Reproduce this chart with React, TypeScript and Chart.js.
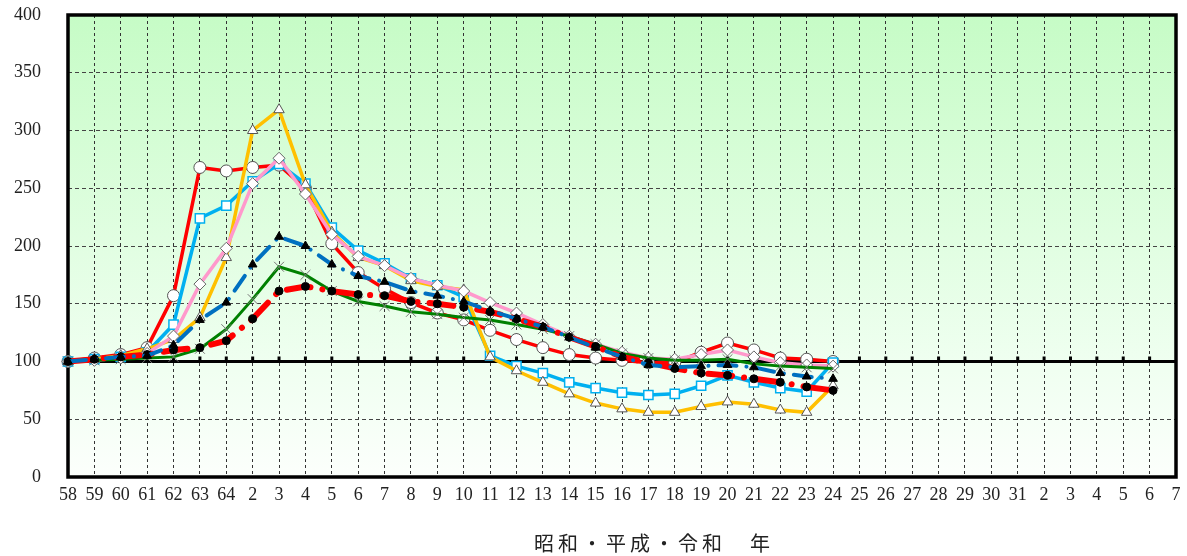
import React, { useEffect, useRef } from "react";
import { Chart, registerables } from "chart.js";

Chart.register(...registerables);

const yearLabels: string[] = [
  "58", "59", "60", "61", "62", "63", "64",
  "2", "3", "4", "5", "6", "7", "8", "9", "10", "11", "12", "13", "14", "15",
  "16", "17", "18", "19", "20", "21", "22", "23", "24", "25", "26", "27", "28",
  "29", "30", "31",
  "2", "3", "4", "5", "6", "7",
];

const redCircle: number[] = [100, 103, 106, 112, 157, 268, 265, 268, 270, 250, 202, 177, 163, 151, 142, 136, 127, 119, 112, 106, 103, 101, 99, 99, 108, 116, 110, 103, 102, 100];
const blueSquare: number[] = [100, 102, 104, 108, 132, 224, 235, 256, 271, 254, 216, 196, 185, 172, 166, 156, 105, 96, 90, 82, 77, 73, 71, 72, 79, 88, 82, 77, 74, 99];
const yellowTriangle: number[] = [100, 102, 105, 111, 119, 138, 190, 300, 318, 253, 212, 190, 183, 170, 165, 162, 104, 92, 82, 72, 64, 59, 56, 56, 61, 65, 63, 58, 56, 79];
const pinkDiamond: number[] = [100, 101, 103, 107, 122, 167, 198, 254, 276, 245, 210, 191, 183, 172, 166, 161, 151, 142, 132, 122, 115, 108, 103, 102, 106, 110, 104, 99, 97, 96];
const navyTriangle: number[] = [100, 102, 104, 105, 114, 136, 151, 184, 208, 200, 184, 174, 169, 161, 157, 152, 144, 137, 130, 121, 112, 104, 97, 95, 96, 97, 95, 90, 87, 85];
const greenCross: number[] = [100, 101, 102, 103, 104, 111, 128, 154, 182, 175, 161, 152, 148, 143, 141, 138, 136, 132, 128, 122, 115, 107, 103, 101, 101, 102, 98, 96, 95, 94];
const redDashDot: number[] = [100, 102, 104, 106, 110, 112, 118, 137, 161, 165, 161, 158, 157, 152, 150, 147, 143, 137, 130, 121, 113, 104, 99, 94, 90, 88, 85, 82, 78, 75];

const yMin = 0;
const yMax = 400;
const yStep = 50;
const baseline = 100;
const axisTitle = "昭和・平成・令和　年";

const decorPlugin = {
  id: "decor",
  beforeDraw(chart: any) {
    const { ctx, chartArea } = chart;
    const { left, top, right, bottom } = chartArea;
    ctx.save();
    const g = ctx.createLinearGradient(0, top, 0, bottom);
    g.addColorStop(0, "#c6fcc6");
    g.addColorStop(0.75, "#effff0");
    g.addColorStop(1, "#fcfffc");
    ctx.fillStyle = g;
    ctx.fillRect(left, top, right - left, bottom - top);
    ctx.restore();
  },
  beforeDatasetsDraw(chart: any) {
    const { ctx, chartArea, scales } = chart;
    const { left, top, right, bottom } = chartArea;
    const y = scales.y.getPixelForValue(baseline);
    ctx.save();
    ctx.strokeStyle = "#000";
    ctx.lineWidth = 3;
    ctx.beginPath();
    ctx.moveTo(left, y);
    ctx.lineTo(right, y);
    ctx.stroke();
    ctx.lineWidth = 3;
    for (let i = 1; i < yearLabels.length - 1; i++) {
      const x = scales.x.getPixelForTick(i);
      ctx.beginPath();
      ctx.moveTo(x, y - 5);
      ctx.lineTo(x, y);
      ctx.stroke();
    }
    ctx.lineWidth = 3.5;
    ctx.strokeRect(left, top, right - left, bottom - top);
    ctx.restore();
  },
  afterDraw(chart: any) {
    const { ctx } = chart;
    ctx.save();
    ctx.font = '20px "Noto Sans CJK JP"';
    (ctx as any).letterSpacing = "4px";
    ctx.fillStyle = "#222";
    ctx.textAlign = "center";
    ctx.textBaseline = "middle";
    ctx.fillText(axisTitle, 654, 543);
    ctx.restore();
  },
};

export default function App() {
  const canvasRef = useRef<HTMLCanvasElement | null>(null);

  useEffect(() => {
    if (!canvasRef.current) return;
    const common = { fill: false, tension: 0, clip: false as any, spanGaps: false };
    const chart = new Chart(canvasRef.current, {
      type: "line",
      data: {
        labels: yearLabels,
        datasets: [
          {
            ...common,
            label: "navy",
            data: navyTriangle,
            borderColor: "#0070c0",
            borderWidth: 4,
            borderDash: [18, 10, 0.1, 10],
            borderCapStyle: "round",
            pointStyle: "triangle",
            pointRadius: 5,
            pointBackgroundColor: "#000",
            pointBorderColor: "#000",
            pointBorderWidth: 1,
            order: 1,
          },
          {
            ...common,
            label: "redDash",
            data: redDashDot,
            borderColor: "#ff0000",
            borderWidth: 6,
            borderDash: [24, 12, 0.1, 12],
            borderCapStyle: "round",
            pointStyle: "circle",
            pointRadius: 4,
            pointBackgroundColor: "#000",
            pointBorderColor: "#000",
            pointBorderWidth: 1,
            order: 2,
          },
          {
            ...common,
            label: "green",
            data: greenCross,
            borderColor: "#008000",
            borderWidth: 3,
            pointStyle: "crossRot",
            pointRadius: 7,
            pointBorderColor: "#777",
            pointBorderWidth: 1,
            order: 3,
          },
          {
            ...common,
            label: "pink",
            data: pinkDiamond,
            borderColor: "#ff99cc",
            borderWidth: 3.5,
            pointStyle: "rectRot",
            pointRadius: 6,
            pointBackgroundColor: "#fff",
            pointBorderColor: "#666",
            pointBorderWidth: 1,
            order: 4,
          },
          {
            ...common,
            label: "yellow",
            data: yellowTriangle,
            borderColor: "#ffc000",
            borderWidth: 3.5,
            pointStyle: "triangle",
            pointRadius: 6,
            pointBackgroundColor: "#fff",
            pointBorderColor: "#555",
            pointBorderWidth: 1,
            order: 5,
          },
          {
            ...common,
            label: "lightblue",
            data: blueSquare,
            borderColor: "#00b0f0",
            borderWidth: 3.5,
            pointStyle: "rect",
            pointRadius: 6.5,
            pointBackgroundColor: "#fff",
            pointBorderColor: "#00b0f0",
            pointBorderWidth: 1.5,
            order: 6,
          },
          {
            ...common,
            label: "red",
            data: redCircle,
            borderColor: "#ff0000",
            borderWidth: 3.5,
            pointStyle: "circle",
            pointRadius: 6,
            pointBackgroundColor: "#fff",
            pointBorderColor: "#555",
            pointBorderWidth: 1,
            order: 7,
          },
        ] as any,
      },
      options: {
        animation: false,
        responsive: false,
        maintainAspectRatio: false,
        layout: { padding: { top: 15, right: 11, left: 0, bottom: 0 } },
        plugins: {
          legend: { display: false },
          tooltip: { enabled: false },
          title: { display: false },
        },
        scales: {
          x: {
            type: "category",
            offset: false,
            grid: { color: "#333", lineWidth: 1, drawTicks: false },
            border: { display: false, dash: [3, 3] },
            ticks: {
              autoSkip: false,
              maxRotation: 0,
              minRotation: 0,
              padding: 7,
              color: "#222",
              font: { family: '"Liberation Serif", "DejaVu Serif", serif', size: 18 },
            },
            afterFit(scale: any) {
              scale.height = 79;
              scale.paddingLeft = 0;
              scale.paddingRight = 0;
            },
          },
          y: {
            type: "linear",
            min: yMin,
            max: yMax,
            grid: { color: "#444", lineWidth: 1, drawTicks: false },
            border: { display: false, dash: [4, 3] },
            ticks: {
              stepSize: yStep,
              padding: 27,
              color: "#222",
              font: { family: '"Liberation Serif", "DejaVu Serif", serif', size: 18 },
            },
            afterFit(scale: any) {
              scale.width = 68;
              scale.paddingTop = 0;
              scale.paddingBottom = 0;
            },
          },
        },
      } as any,
      plugins: [decorPlugin],
    });
    return () => chart.destroy();
  }, []);

  return (
    <div style={{ position: "absolute", left: 0, top: 0, width: 1187, height: 556, background: "#fff" }}>
      <canvas ref={canvasRef} width={1187} height={556} style={{ display: "block", width: 1187, height: 556 }} />
    </div>
  );
}
